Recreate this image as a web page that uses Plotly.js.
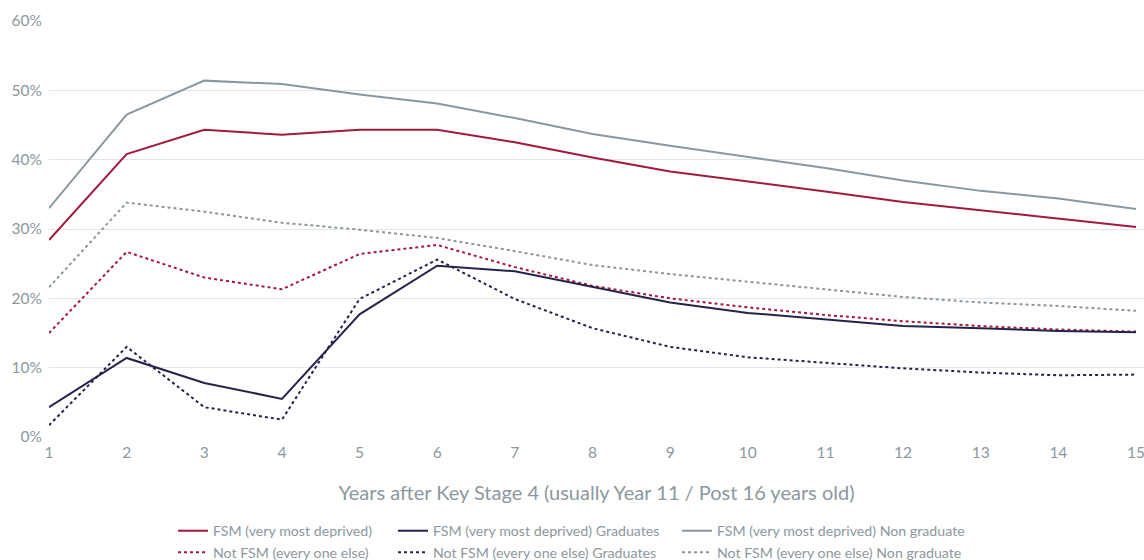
<!DOCTYPE html>
<html>
<head>
<meta charset="utf-8">
<script src="https://cdn.plot.ly/plotly-3.0.1.min.js"></script>
<style>html,body{margin:0;padding:0;background:#fff;}#chart{width:1144px;height:560px;}</style>
</head>
<body>
<div id="chart"></div>
<script>
const years = [1,2,3,4,5,6,7,8,9,10,11,12,13,14,15];
const fsm = [28.4,40.8,44.3,43.6,44.3,44.3,42.5,40.3,38.3,36.9,35.4,33.9,32.7,31.6,30.3];
const fsmGrad = [4.3,11.4,7.8,5.5,17.7,24.7,23.9,21.7,19.4,17.9,17.0,16.0,15.7,15.3,15.1];
const fsmNonGrad = [33.0,46.5,51.4,50.9,49.4,48.1,46.0,43.7,42.0,40.4,38.8,37.0,35.5,34.4,32.9];
const notFsm = [15.0,26.7,23.0,21.3,26.4,27.7,24.5,21.8,20.0,18.7,17.6,16.7,16.0,15.5,15.2];
const notFsmGrad = [1.7,13.0,4.3,2.5,19.9,25.6,19.9,15.7,13.0,11.5,10.7,9.9,9.3,8.9,9.0];
const notFsmNonGrad = [21.6,33.8,32.5,30.9,29.9,28.7,26.8,24.8,23.5,22.4,21.3,20.2,19.4,18.9,18.2];

const names = [
  'FSM (very most deprived)',
  'FSM (very most deprived) Graduates',
  'FSM (very most deprived) Non graduate',
  'Not FSM (every one else)',
  'Not FSM (every one else) Graduates',
  'Not FSM (every one else) Non graduate'
];
const yTicks = [0,10,20,30,40,50,60];
const xTitle = 'Years after Key Stage 4 (usually Year 11 / Post 16 years old)';

const RED = '#a3193d', NAVY = '#26234a', GREY = '#8b979e';
const TXT = '#8c989f';

function tr(y, name, color, dash, legend){
  return {x: years, y: y, name: name, type: 'scatter', mode: 'lines',
    line: {color: color, width: 2, dash: dash},
    legend: legend, hoverinfo: 'skip'};
}
const data = [
  tr(notFsmNonGrad, names[5], GREY, 'dot', 'legend3'),
  tr(fsmNonGrad, names[2], GREY, 'solid', 'legend3'),
  tr(notFsm, names[3], RED, 'dot', 'legend'),
  tr(fsm, names[0], RED, 'solid', 'legend'),
  tr(notFsmGrad, names[4], NAVY, 'dot', 'legend2'),
  tr(fsmGrad, names[1], NAVY, 'solid', 'legend2')
];

function lg(xpx){
  return {x: (xpx-49)/1095, xanchor: 'left', y: -(515-437)/416, yanchor: 'top',
    orientation: 'v', traceorder: 'reversed', itemwidth: 30, tracegroupgap: 0,
    font: {family: 'Lato, "Open Sans", sans-serif', size: 14.2, color: TXT},
    bgcolor: 'rgba(0,0,0,0)'};
}

const layout = {
  width: 1144, height: 560,
  margin: {l: 49, r: 0, t: 21, b: 123, autoexpand: false},
  paper_bgcolor: '#fff', plot_bgcolor: '#fff',
  font: {family: 'Lato, "Open Sans", sans-serif', color: TXT},
  showlegend: true,
  xaxis: {
    range: [1, 15.103], tickvals: years, ticktext: years.map(String),
    showgrid: false, zeroline: false, showline: false,
    ticks: '', tickfont: {size: 15.5, color: TXT}, ticklabelstandoff: 4,
    ticklabeloverflow: 'allow',
    title: {text: xTitle, font: {size: 20, color: TXT}, standoff: 26},
    automargin: false, fixedrange: true
  },
  yaxis: {
    range: [0, 60], tickvals: yTicks, ticktext: yTicks.map(v => v + '%'),
    showgrid: true, gridcolor: '#e2e6e9', gridwidth: 1,
    zeroline: false, showline: false, ticks: '',
    tickfont: {size: 15.5, color: TXT}, ticklabelstandoff: 6,
    automargin: false, fixedrange: true
  },
  legend: lg(173),
  legend2: lg(393),
  legend3: lg(677)
};

Plotly.newPlot('chart', data, layout, {displayModeBar: false, staticPlot: true});
</script>
</body>
</html>
